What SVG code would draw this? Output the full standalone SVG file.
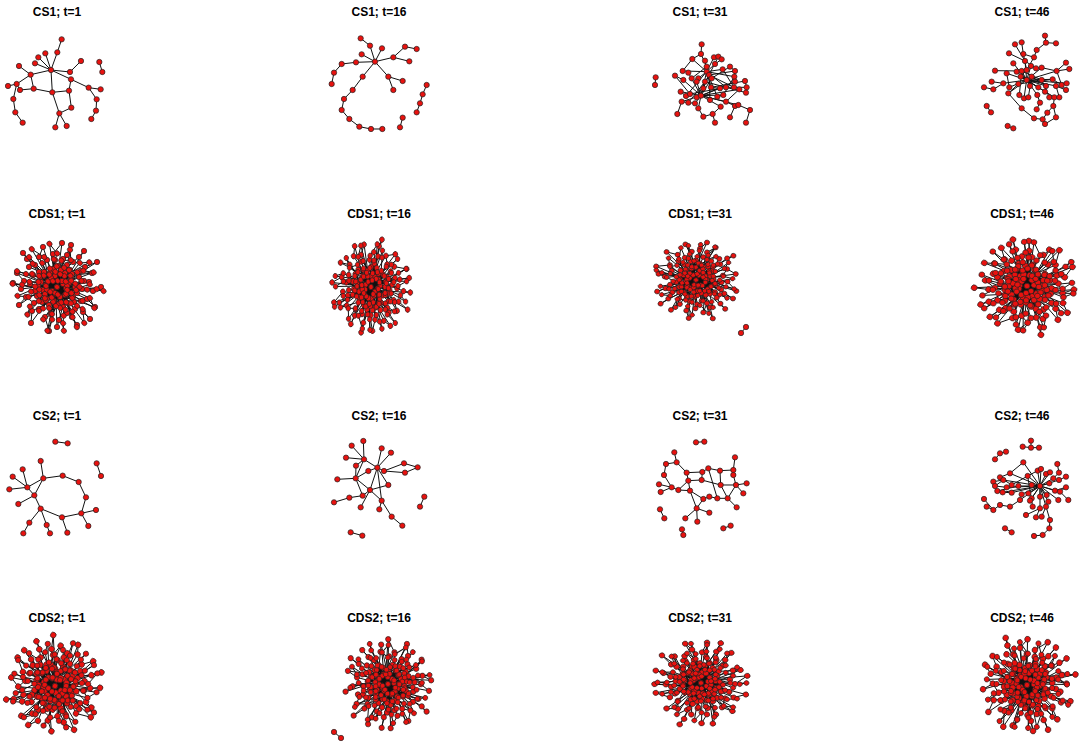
<svg xmlns="http://www.w3.org/2000/svg" xmlns:xlink="http://www.w3.org/1999/xlink" width="1084" height="747" viewBox="0 0 1084 747">
<style>
.t{font-family:"Liberation Sans",Arial,sans-serif;font-weight:bold;font-size:12px;text-anchor:middle;fill:#000}
.e{fill:none;stroke:#111;stroke-width:1;vector-effect:non-scaling-stroke}
.n circle{fill:#e8120f;stroke:#222;stroke-width:0.7;vector-effect:non-scaling-stroke}
</style>
<defs>
<path id="de" class="e" d="M28 -20L-5 4M32 -5L0 0M30 12L-9 -6M26 25L6 -3M15 30L-2 -11M2 33L10 5M-12 30L14 -8M-25 24L3 10M-31 10L9 1M-33 -6L6 -3M-28 -20L5 -6M-18 -30L-1 7M-4 -33L3 10M10 -32L-5 4M22 -30L-11 -2M36 4L-14 3M35 -14L-6 -9M-36 2L12 -4M-30 -28L0 0M0 40L-2 -11M-8 44L5 -6M20 38L-9 -6M38 20L-1 7M-38 18L8 -14M40 -25L-5 4M-14 -40L3 10M14 -42L-10 12M-40 -14L10 5M27 -36L-8 18M-26 36L13 -17M44 0L-12 7M-44 -4L16 10M5 -44L-3 14M33 32L-7 -14M-34 -34L11 16M-17 -10L19 -2M-20 9L20 6M2 17L-4 -18M-13 -15L17 15M-15 15L15 -13M6 20L1 -21M-22 4L22 -10M-18 -15L11 16M-8 18L8 -14M-10 12L14 -8M-16 -5L18 0M4 -17L-3 14M10 -22L-12 7M-19 -1L21 6M28 -20L40 -25M36 4L44 0M-38 18L-31 10M0 40L2 33M-8 44L-12 30M5 -44L-4 -33M14 -42L10 -32M-40 -14L-33 -6M-34 -34L-30 -28M27 -36L22 -30M33 32L26 25M-26 36L-25 24M38 20L30 12M20 38L15 30M-14 -40L-18 -30M-44 -4L-36 2M24 -16L-6 -9M25 2L-11 -2M-24 -12L9 1M-23 16L6 -3M10 26L-2 -11M-6 27L5 -6M18 22L-9 -6M-18 22L12 -4M-27 -3L10 5M27 -6L-5 4M-10 -27L3 10M6 -28L-1 7M16 -25L-14 3M-22 -22L8 8M24 14L-12 7M-2 -27L0 0M24 -16L35 -14M-23 16L-31 10M10 26L15 30M-10 -27L-18 -30"/>
<g id="dn" class="n">
<circle cx="0" cy="0" r="2.7"/><circle cx="6" cy="-3" r="2.7"/><circle cx="-5" cy="4" r="2.7"/><circle cx="10" cy="5" r="2.7"/><circle cx="-9" cy="-6" r="2.7"/><circle cx="3" cy="10" r="2.7"/><circle cx="-2" cy="-11" r="2.7"/><circle cx="14" cy="-8" r="2.7"/><circle cx="-14" cy="3" r="2.7"/><circle cx="8" cy="-14" r="2.7"/><circle cx="-10" cy="12" r="2.7"/><circle cx="16" cy="10" r="2.7"/><circle cx="-17" cy="-10" r="2.7"/><circle cx="2" cy="17" r="2.7"/><circle cx="-4" cy="-18" r="2.7"/><circle cx="19" cy="-2" r="2.7"/><circle cx="-19" cy="-1" r="2.7"/><circle cx="11" cy="16" r="2.7"/><circle cx="-13" cy="-15" r="2.7"/><circle cx="13" cy="-17" r="2.7"/><circle cx="-8" cy="18" r="2.7"/><circle cx="20" cy="6" r="2.7"/><circle cx="-20" cy="9" r="2.7"/><circle cx="5" cy="-6" r="2.7"/><circle cx="-6" cy="-9" r="2.7"/><circle cx="9" cy="1" r="2.7"/><circle cx="-1" cy="7" r="2.7"/><circle cx="-11" cy="-2" r="2.7"/><circle cx="15" cy="-13" r="2.7"/><circle cx="-15" cy="15" r="2.7"/><circle cx="6" cy="20" r="2.7"/><circle cx="-3" cy="14" r="2.7"/><circle cx="12" cy="-4" r="2.7"/><circle cx="-7" cy="-14" r="2.7"/><circle cx="17" cy="15" r="2.7"/><circle cx="-18" cy="-15" r="2.7"/><circle cx="1" cy="-21" r="2.7"/><circle cx="22" cy="-10" r="2.7"/><circle cx="-22" cy="4" r="2.7"/><circle cx="8" cy="8" r="2.7"/><circle cx="-12" cy="7" r="2.7"/><circle cx="4" cy="-17" r="2.7"/><circle cx="18" cy="0" r="2.7"/><circle cx="-16" cy="-5" r="2.7"/><circle cx="10" cy="-22" r="2.7"/>
<circle cx="24" cy="-16" r="2.7"/><circle cx="25" cy="2" r="2.7"/><circle cx="-24" cy="-12" r="2.7"/><circle cx="-23" cy="16" r="2.7"/><circle cx="10" cy="26" r="2.7"/><circle cx="-6" cy="27" r="2.7"/><circle cx="18" cy="22" r="2.7"/><circle cx="-18" cy="22" r="2.7"/><circle cx="-27" cy="-3" r="2.7"/><circle cx="27" cy="-6" r="2.7"/><circle cx="-10" cy="-27" r="2.7"/><circle cx="6" cy="-28" r="2.7"/><circle cx="16" cy="-25" r="2.7"/><circle cx="-22" cy="-22" r="2.7"/><circle cx="24" cy="14" r="2.7"/><circle cx="-2" cy="-27" r="2.7"/>
<circle cx="28" cy="-20" r="2.7"/><circle cx="32" cy="-5" r="2.7"/><circle cx="30" cy="12" r="2.7"/><circle cx="26" cy="25" r="2.7"/><circle cx="15" cy="30" r="2.7"/><circle cx="2" cy="33" r="2.7"/><circle cx="-12" cy="30" r="2.7"/><circle cx="-25" cy="24" r="2.7"/><circle cx="-31" cy="10" r="2.7"/><circle cx="-33" cy="-6" r="2.7"/><circle cx="-28" cy="-20" r="2.7"/><circle cx="-18" cy="-30" r="2.7"/><circle cx="-4" cy="-33" r="2.7"/><circle cx="10" cy="-32" r="2.7"/><circle cx="22" cy="-30" r="2.7"/><circle cx="36" cy="4" r="2.7"/><circle cx="35" cy="-14" r="2.7"/><circle cx="-36" cy="2" r="2.7"/><circle cx="-30" cy="-28" r="2.7"/><circle cx="0" cy="40" r="2.7"/><circle cx="-8" cy="44" r="2.7"/><circle cx="20" cy="38" r="2.7"/><circle cx="38" cy="20" r="2.7"/><circle cx="-38" cy="18" r="2.7"/><circle cx="40" cy="-25" r="2.7"/><circle cx="-14" cy="-40" r="2.7"/><circle cx="14" cy="-42" r="2.7"/><circle cx="-40" cy="-14" r="2.7"/><circle cx="27" cy="-36" r="2.7"/><circle cx="-26" cy="36" r="2.7"/><circle cx="44" cy="0" r="2.7"/><circle cx="-44" cy="-4" r="2.7"/><circle cx="5" cy="-44" r="2.7"/><circle cx="33" cy="32" r="2.7"/><circle cx="-34" cy="-34" r="2.7"/>
</g>
</defs>
<rect width="1084" height="747" fill="#fff"/>

<g id="titles">
<text class="t" x="57" y="16">CS1; t=1</text>
<text class="t" x="379" y="16">CS1; t=16</text>
<text class="t" x="700" y="16">CS1; t=31</text>
<text class="t" x="1022" y="16">CS1; t=46</text>
<text class="t" x="57" y="218">CDS1; t=1</text>
<text class="t" x="379" y="218">CDS1; t=16</text>
<text class="t" x="700" y="218">CDS1; t=31</text>
<text class="t" x="1022" y="218">CDS1; t=46</text>
<text class="t" x="57" y="420">CS2; t=1</text>
<text class="t" x="379" y="420">CS2; t=16</text>
<text class="t" x="700" y="420">CS2; t=31</text>
<text class="t" x="1022" y="420">CS2; t=46</text>
<text class="t" x="57" y="622">CDS2; t=1</text>
<text class="t" x="379" y="622">CDS2; t=16</text>
<text class="t" x="700" y="622">CDS2; t=31</text>
<text class="t" x="1022" y="622">CDS2; t=46</text>
</g>

<!-- CS1 t=1 -->
<g id="cs1-t1" transform="translate(0,0) scale(0.3333)">
<path class="e" d="M185 118L172 157L153 210M136 160L153 210M115 172L153 210M105 190L153 210M57 198L92 224L153 210L210 216L243 183M153 210L213 238L266 263L302 268M153 210L157 277M92 224L101 266M92 224L50 252L24 258M50 252L60 270L101 266L157 277L207 272L213 238M207 272L214 323L178 340L157 277M178 340L166 382M178 340L200 378M50 252L40 297L46 337L68 368M266 263L290 298L288 332L274 357M298 186L307 216"/>
<g class="n"><circle cx="185" cy="118" r="8"/><circle cx="172" cy="157" r="8"/><circle cx="136" cy="160" r="8"/><circle cx="115" cy="172" r="8"/><circle cx="105" cy="190" r="8"/><circle cx="57" cy="198" r="8"/><circle cx="153" cy="210" r="8"/><circle cx="92" cy="224" r="8"/><circle cx="210" cy="216" r="8"/><circle cx="243" cy="183" r="8"/><circle cx="213" cy="238" r="8"/><circle cx="50" cy="252" r="8"/><circle cx="24" cy="258" r="8"/><circle cx="60" cy="270" r="8"/><circle cx="101" cy="266" r="8"/><circle cx="157" cy="277" r="8"/><circle cx="207" cy="272" r="8"/><circle cx="266" cy="263" r="8"/><circle cx="302" cy="268" r="8"/><circle cx="40" cy="297" r="8"/><circle cx="214" cy="323" r="8"/><circle cx="290" cy="298" r="8"/><circle cx="46" cy="337" r="8"/><circle cx="178" cy="340" r="8"/><circle cx="288" cy="332" r="8"/><circle cx="68" cy="368" r="8"/><circle cx="274" cy="357" r="8"/><circle cx="166" cy="382" r="8"/><circle cx="200" cy="378" r="8"/><circle cx="298" cy="186" r="8"/><circle cx="307" cy="216" r="8"/></g>
</g>

<!-- CS1 t=16 -->
<g id="cs1-t16" transform="translate(320,0) scale(0.3333)">
<path class="e" d="M122 115L150 137L165 185M125 163L165 185M186 145L165 185M165 185L220 172L255 140L290 147M220 172L268 184M165 185L205 230L248 243M205 230L220 270M165 185L128 230L98 270L72 297L65 330L88 357L118 380L153 387L187 387M165 185L108 187L65 192L42 218L35 252M320 255L308 283L300 310L290 337M248 353L240 382"/>
<g class="n"><circle cx="122" cy="115" r="8"/><circle cx="150" cy="137" r="8"/><circle cx="165" cy="185" r="8"/><circle cx="125" cy="163" r="8"/><circle cx="186" cy="145" r="8"/><circle cx="220" cy="172" r="8"/><circle cx="255" cy="140" r="8"/><circle cx="290" cy="147" r="8"/><circle cx="268" cy="184" r="8"/><circle cx="205" cy="230" r="8"/><circle cx="248" cy="243" r="8"/><circle cx="220" cy="270" r="8"/><circle cx="128" cy="230" r="8"/><circle cx="98" cy="270" r="8"/><circle cx="72" cy="297" r="8"/><circle cx="65" cy="330" r="8"/><circle cx="88" cy="357" r="8"/><circle cx="118" cy="380" r="8"/><circle cx="153" cy="387" r="8"/><circle cx="187" cy="387" r="8"/><circle cx="108" cy="187" r="8"/><circle cx="65" cy="192" r="8"/><circle cx="42" cy="218" r="8"/><circle cx="35" cy="252" r="8"/><circle cx="320" cy="255" r="8"/><circle cx="308" cy="283" r="8"/><circle cx="300" cy="310" r="8"/><circle cx="290" cy="337" r="8"/><circle cx="248" cy="353" r="8"/><circle cx="240" cy="382" r="8"/></g>
</g>

<!-- CS1 t=31 -->
<g id="cs1-t31" transform="translate(640,0) scale(0.3333)">
<path class="e" d="M185 133L183 162L200 200L200 215M157 177L200 215M195 182L200 215M222 172L200 215M235 170L207 225M245 178L225 192L200 215M248 208L200 215M270 200L215 235M285 213L207 225M283 230L200 215M285 245L183 287M315 243L213 262M320 262L258 262M318 278L195 245M298 268L183 287M282 262L207 225M258 262L200 215M240 265L183 287M213 262L200 215M195 245L183 287M175 235L200 215M190 265L207 225M170 245L183 287M155 235L200 200M130 240L183 287M105 227L150 282M128 213L200 215M145 218L183 287M122 275L183 287M138 288L200 215M150 282L258 262M170 292L207 225M165 310L183 287M145 308L195 245M125 305L183 287M112 342L125 305M175 325L183 287M175 325L190 350L218 342L242 320L183 287M225 368L218 342M258 305L183 287M285 318L258 305M295 315L183 287M270 352L285 318M330 330L295 315M318 368L330 330M232 290L200 215M210 300L207 225M250 285L183 287M250 285L283 230M130 240L105 227M157 177L128 213M235 170L245 178M270 200L285 213L283 230M315 243L320 262L318 278M47 232L45 255M183 162L157 177M222 172L235 170M213 262L240 265M258 305L298 268M232 290L250 285M165 310L145 308L125 305M122 275L138 288M200 215L183 287M215 235L183 287M248 208L282 262"/>
<g class="n"><circle cx="185" cy="133" r="8"/><circle cx="183" cy="162" r="8"/><circle cx="157" cy="177" r="8"/><circle cx="195" cy="182" r="8"/><circle cx="222" cy="172" r="8"/><circle cx="235" cy="170" r="8"/><circle cx="245" cy="178" r="8"/><circle cx="225" cy="192" r="8"/><circle cx="248" cy="208" r="8"/><circle cx="270" cy="200" r="8"/><circle cx="285" cy="213" r="8"/><circle cx="283" cy="230" r="8"/><circle cx="285" cy="245" r="8"/><circle cx="315" cy="243" r="8"/><circle cx="320" cy="262" r="8"/><circle cx="318" cy="278" r="8"/><circle cx="298" cy="268" r="8"/><circle cx="282" cy="262" r="8"/><circle cx="258" cy="262" r="8"/><circle cx="240" cy="265" r="8"/><circle cx="213" cy="262" r="8"/><circle cx="195" cy="245" r="8"/><circle cx="200" cy="215" r="8"/><circle cx="207" cy="225" r="8"/><circle cx="215" cy="235" r="8"/><circle cx="175" cy="235" r="8"/><circle cx="190" cy="265" r="8"/><circle cx="170" cy="245" r="8"/><circle cx="155" cy="235" r="8"/><circle cx="130" cy="240" r="8"/><circle cx="105" cy="227" r="8"/><circle cx="128" cy="213" r="8"/><circle cx="145" cy="218" r="8"/><circle cx="122" cy="275" r="8"/><circle cx="138" cy="288" r="8"/><circle cx="150" cy="282" r="8"/><circle cx="170" cy="292" r="8"/><circle cx="183" cy="287" r="8"/><circle cx="165" cy="310" r="8"/><circle cx="145" cy="308" r="8"/><circle cx="125" cy="305" r="8"/><circle cx="112" cy="342" r="8"/><circle cx="175" cy="325" r="8"/><circle cx="190" cy="350" r="8"/><circle cx="218" cy="342" r="8"/><circle cx="242" cy="320" r="8"/><circle cx="258" cy="305" r="8"/><circle cx="285" cy="318" r="8"/><circle cx="295" cy="315" r="8"/><circle cx="270" cy="352" r="8"/><circle cx="225" cy="368" r="8"/><circle cx="330" cy="330" r="8"/><circle cx="318" cy="368" r="8"/><circle cx="232" cy="290" r="8"/><circle cx="210" cy="300" r="8"/><circle cx="250" cy="285" r="8"/><circle cx="200" cy="200" r="8"/><circle cx="47" cy="232" r="8"/><circle cx="45" cy="255" r="8"/></g>
</g>

<!-- CS1 t=46 -->
<g id="cs1-t46" transform="translate(960,0) scale(0.3333)">
<path class="e" d="M255 107L258 128L288 130M258 128L230 150L222 172M185 127L190 162L200 210M165 133L195 183M147 160L195 183M190 162L222 172L200 210M195 183L200 240M160 190L200 240M213 198L200 240M228 205L195 183M245 203L200 240M290 213L318 188M290 213L328 207M290 213L200 240M105 212L185 213M140 220L200 240M170 215L200 240M185 213L245 240M200 210L182 230L200 240M215 230L258 258M245 240L182 230M278 238L200 240M305 255L278 238M320 250L200 240M95 245L130 250L200 240M148 262L200 240M175 252L278 238M210 258L185 213M235 262L182 230M258 258L200 240M288 258L200 240M318 270L288 258M72 262L100 268L130 250M145 280L200 240M178 285L185 213M192 295L200 240M205 292L215 230M232 285L200 240M255 275L182 230M268 292L245 240M283 292L200 240M298 292L288 258M240 308L232 285M240 308L230 328M280 318L283 292M262 338L280 318M262 338L248 358L222 355L185 325L145 280M288 352L280 318M255 372L288 352M255 372L248 358M80 318L93 337M143 378L160 385M290 213L305 255L318 270M140 220L148 262M175 252L145 280M228 205L245 203L290 213"/>
<g class="n"><circle cx="255" cy="107" r="8"/><circle cx="258" cy="128" r="8"/><circle cx="288" cy="130" r="8"/><circle cx="230" cy="150" r="8"/><circle cx="185" cy="127" r="8"/><circle cx="165" cy="133" r="8"/><circle cx="147" cy="160" r="8"/><circle cx="190" cy="162" r="8"/><circle cx="222" cy="172" r="8"/><circle cx="195" cy="183" r="8"/><circle cx="160" cy="190" r="8"/><circle cx="213" cy="198" r="8"/><circle cx="228" cy="205" r="8"/><circle cx="245" cy="203" r="8"/><circle cx="290" cy="213" r="8"/><circle cx="318" cy="188" r="8"/><circle cx="328" cy="207" r="8"/><circle cx="105" cy="212" r="8"/><circle cx="140" cy="220" r="8"/><circle cx="170" cy="215" r="8"/><circle cx="185" cy="213" r="8"/><circle cx="200" cy="210" r="8"/><circle cx="182" cy="230" r="8"/><circle cx="200" cy="240" r="8"/><circle cx="215" cy="230" r="8"/><circle cx="245" cy="240" r="8"/><circle cx="278" cy="238" r="8"/><circle cx="305" cy="255" r="8"/><circle cx="320" cy="250" r="8"/><circle cx="95" cy="245" r="8"/><circle cx="130" cy="250" r="8"/><circle cx="148" cy="262" r="8"/><circle cx="175" cy="252" r="8"/><circle cx="210" cy="258" r="8"/><circle cx="235" cy="262" r="8"/><circle cx="258" cy="258" r="8"/><circle cx="288" cy="258" r="8"/><circle cx="318" cy="270" r="8"/><circle cx="72" cy="262" r="8"/><circle cx="100" cy="268" r="8"/><circle cx="145" cy="280" r="8"/><circle cx="178" cy="285" r="8"/><circle cx="192" cy="295" r="8"/><circle cx="205" cy="292" r="8"/><circle cx="232" cy="285" r="8"/><circle cx="255" cy="275" r="8"/><circle cx="268" cy="292" r="8"/><circle cx="283" cy="292" r="8"/><circle cx="298" cy="292" r="8"/><circle cx="240" cy="308" r="8"/><circle cx="230" cy="328" r="8"/><circle cx="280" cy="318" r="8"/><circle cx="262" cy="338" r="8"/><circle cx="248" cy="358" r="8"/><circle cx="185" cy="325" r="8"/><circle cx="222" cy="355" r="8"/><circle cx="288" cy="352" r="8"/><circle cx="255" cy="372" r="8"/><circle cx="80" cy="318" r="8"/><circle cx="93" cy="337" r="8"/><circle cx="143" cy="378" r="8"/><circle cx="160" cy="385" r="8"/></g>
</g>

<!-- CDS1 -->
<g id="cds1-t1" transform="translate(57,287)">
<use href="#de"/><use href="#de" transform="rotate(137) scale(0.92,1.02)"/><use href="#dn"/><use href="#dn" transform="rotate(137) scale(0.92,1.02)"/>
</g>
<g id="cds1-t16" transform="translate(371,287) scale(0.88,1.02)">
<use href="#de" transform="rotate(60)"/><use href="#de" transform="rotate(200) scale(-0.95,0.95)"/><use href="#dn" transform="rotate(60)"/><use href="#dn" transform="rotate(200) scale(-0.95,0.95)"/>
</g>
<g id="cds1-t31" transform="translate(696,280) scale(0.95,0.88)">
<use href="#de" transform="rotate(100)"/><use href="#de" transform="rotate(-30) scale(0.9)"/><use href="#dn" transform="rotate(100)"/><use href="#dn" transform="rotate(-30) scale(0.9)"/>
</g>
<g id="cds1-t31-pair"><path class="e" d="M741 333L746 327"/><g class="n"><circle cx="741" cy="333" r="2.7"/><circle cx="746" cy="327" r="2.7"/></g></g>
<g id="cds1-t46" transform="translate(1027,286) scale(1.12,1.05)">
<use href="#de" transform="rotate(210)"/><use href="#de" transform="rotate(15) scale(-0.95,0.95)"/><use href="#dn" transform="rotate(210)"/><use href="#dn" transform="rotate(15) scale(-0.95,0.95)"/>
</g>

<!-- CS2 t=1 -->
<g id="cs2-t1" transform="translate(0,400) scale(0.3333)">
<path class="e" d="M166 125L203 130M290 190L303 228M130 235L188 227L236 246L258 292L244 340L186 352L122 326L103 286L130 235M82 262L38 230M82 262L68 208M82 262L28 268M82 262L130 235M82 262L103 286M122 183L130 235M103 286L55 312M122 326L88 368L70 400M122 326L140 375L150 400M186 352L202 398M244 340L288 330M244 340L265 378"/>
<g class="n"><circle cx="166" cy="125" r="8"/><circle cx="203" cy="130" r="8"/><circle cx="290" cy="190" r="8"/><circle cx="303" cy="228" r="8"/><circle cx="130" cy="235" r="8"/><circle cx="188" cy="227" r="8"/><circle cx="236" cy="246" r="8"/><circle cx="258" cy="292" r="8"/><circle cx="244" cy="340" r="8"/><circle cx="186" cy="352" r="8"/><circle cx="122" cy="326" r="8"/><circle cx="103" cy="286" r="8"/><circle cx="82" cy="262" r="8"/><circle cx="38" cy="230" r="8"/><circle cx="68" cy="208" r="8"/><circle cx="28" cy="268" r="8"/><circle cx="122" cy="183" r="8"/><circle cx="55" cy="312" r="8"/><circle cx="88" cy="368" r="8"/><circle cx="70" cy="400" r="8"/><circle cx="140" cy="375" r="8"/><circle cx="150" cy="400" r="8"/><circle cx="202" cy="398" r="8"/><circle cx="288" cy="330" r="8"/><circle cx="265" cy="378" r="8"/></g>
</g>

<!-- CS2 t=16 -->
<g id="cs2-t16" transform="translate(320,400) scale(0.3333)">
<path class="e" d="M95 137L132 178M130 123L132 178M78 173L132 178L172 203M185 145L172 203M213 158L172 203M108 197L132 178M108 197L107 235M132 178L107 235M52 238L107 235L145 213L172 203L192 213L252 190L293 202L255 218L192 213M107 235L150 270M172 203L150 270M172 203L205 255L150 270M107 235L128 287M150 270L128 287L88 293L42 307M150 270L122 322M150 270L185 302L178 328M185 302L215 350L247 377M172 203L185 302M313 290L300 320M92 397L127 407"/>
<g class="n"><circle cx="95" cy="137" r="8"/><circle cx="130" cy="123" r="8"/><circle cx="78" cy="173" r="8"/><circle cx="132" cy="178" r="8"/><circle cx="185" cy="145" r="8"/><circle cx="213" cy="158" r="8"/><circle cx="108" cy="197" r="8"/><circle cx="145" cy="213" r="8"/><circle cx="172" cy="203" r="8"/><circle cx="192" cy="213" r="8"/><circle cx="252" cy="190" r="8"/><circle cx="293" cy="202" r="8"/><circle cx="255" cy="218" r="8"/><circle cx="52" cy="238" r="8"/><circle cx="107" cy="235" r="8"/><circle cx="205" cy="255" r="8"/><circle cx="150" cy="270" r="8"/><circle cx="128" cy="287" r="8"/><circle cx="88" cy="293" r="8"/><circle cx="42" cy="307" r="8"/><circle cx="185" cy="302" r="8"/><circle cx="122" cy="322" r="8"/><circle cx="178" cy="328" r="8"/><circle cx="215" cy="350" r="8"/><circle cx="247" cy="377" r="8"/><circle cx="313" cy="290" r="8"/><circle cx="300" cy="320" r="8"/><circle cx="92" cy="397" r="8"/><circle cx="127" cy="407" r="8"/></g>
</g>

<!-- CS2 t=31 -->
<g id="cs2-t31" transform="translate(640,400) scale(0.3333)">
<path class="e" d="M168 127L193 125M103 157L110 187L78 192L72 225L95 262L57 253M95 262L62 276M110 187L140 218L187 216L205 205L240 212L280 210L285 172M280 210L280 225L288 255L320 250M288 255L310 280M140 218L145 242L185 240L187 216M95 262L115 270L150 272L145 242M150 272L190 297L208 290L232 295L263 295L242 255L240 212M242 255L288 255M185 240L242 255M263 295L290 322M288 255L263 295M190 297L170 325L208 338M170 325L136 355M170 325L172 365M150 272L170 325M205 205L232 295M60 328L73 355M126 388L130 405M272 377L250 385M145 242L115 270"/>
<g class="n"><circle cx="168" cy="127" r="8"/><circle cx="193" cy="125" r="8"/><circle cx="103" cy="157" r="8"/><circle cx="110" cy="187" r="8"/><circle cx="78" cy="192" r="8"/><circle cx="72" cy="225" r="8"/><circle cx="140" cy="218" r="8"/><circle cx="187" cy="216" r="8"/><circle cx="205" cy="205" r="8"/><circle cx="240" cy="212" r="8"/><circle cx="280" cy="210" r="8"/><circle cx="285" cy="172" r="8"/><circle cx="280" cy="225" r="8"/><circle cx="145" cy="242" r="8"/><circle cx="185" cy="240" r="8"/><circle cx="57" cy="253" r="8"/><circle cx="95" cy="262" r="8"/><circle cx="115" cy="270" r="8"/><circle cx="150" cy="272" r="8"/><circle cx="242" cy="255" r="8"/><circle cx="288" cy="255" r="8"/><circle cx="320" cy="250" r="8"/><circle cx="62" cy="276" r="8"/><circle cx="190" cy="297" r="8"/><circle cx="208" cy="290" r="8"/><circle cx="232" cy="295" r="8"/><circle cx="263" cy="295" r="8"/><circle cx="310" cy="280" r="8"/><circle cx="170" cy="325" r="8"/><circle cx="208" cy="338" r="8"/><circle cx="290" cy="322" r="8"/><circle cx="136" cy="355" r="8"/><circle cx="172" cy="365" r="8"/><circle cx="60" cy="328" r="8"/><circle cx="73" cy="355" r="8"/><circle cx="126" cy="388" r="8"/><circle cx="130" cy="405" r="8"/><circle cx="272" cy="377" r="8"/><circle cx="250" cy="385" r="8"/></g>
</g>

<!-- CS2 t=46 -->
<g id="cs2-t46" transform="translate(960,400) scale(0.3333)">
<path class="e" d="M213 122L213 143M188 140L213 143L237 143M138 155L120 160L105 178M190 187L240 258M150 220L240 258M120 232L155 255M100 245L130 240L240 258M203 228L240 258M233 212L240 258M243 207L240 258M258 222L240 258M270 217L240 258M280 235L240 258M297 218L280 235M318 230L297 240M292 192L297 218M297 240L240 258M268 250L240 258M215 255L240 258M175 258L240 258M155 255L203 228M140 262L240 258M105 258L130 240M112 273L175 258M128 277L240 258M155 278L240 258M185 283L240 258M205 280L240 258M215 295L240 258M240 290L240 258M260 285L240 258M285 272L240 258M300 275L240 258M318 262L300 275M325 300L300 275M295 300L240 258M265 305L240 258M258 320L240 258M240 325L240 258M218 320L203 228M210 302L240 258M180 300L240 258M150 320L180 300M120 315L150 320M100 330L120 315M72 297L100 330M80 320L100 330M198 345L240 325M228 352L240 325M245 350L258 320M270 360L258 320M268 385L270 360M248 405L268 385M222 408L248 405M135 385L155 397M150 220L190 187M203 228L233 212M120 232L150 220M285 272L318 262M140 262L105 258M155 278L128 277"/>
<g class="n"><circle cx="213" cy="122" r="8"/><circle cx="188" cy="140" r="8"/><circle cx="213" cy="143" r="8"/><circle cx="237" cy="143" r="8"/><circle cx="138" cy="155" r="8"/><circle cx="120" cy="160" r="8"/><circle cx="105" cy="178" r="8"/><circle cx="190" cy="187" r="8"/><circle cx="150" cy="220" r="8"/><circle cx="120" cy="232" r="8"/><circle cx="100" cy="245" r="8"/><circle cx="130" cy="240" r="8"/><circle cx="203" cy="228" r="8"/><circle cx="233" cy="212" r="8"/><circle cx="243" cy="207" r="8"/><circle cx="258" cy="222" r="8"/><circle cx="270" cy="217" r="8"/><circle cx="280" cy="235" r="8"/><circle cx="297" cy="218" r="8"/><circle cx="318" cy="230" r="8"/><circle cx="292" cy="192" r="8"/><circle cx="297" cy="240" r="8"/><circle cx="268" cy="250" r="8"/><circle cx="240" cy="258" r="8"/><circle cx="215" cy="255" r="8"/><circle cx="175" cy="258" r="8"/><circle cx="155" cy="255" r="8"/><circle cx="140" cy="262" r="8"/><circle cx="105" cy="258" r="8"/><circle cx="112" cy="273" r="8"/><circle cx="128" cy="277" r="8"/><circle cx="155" cy="278" r="8"/><circle cx="185" cy="283" r="8"/><circle cx="205" cy="280" r="8"/><circle cx="215" cy="295" r="8"/><circle cx="240" cy="290" r="8"/><circle cx="260" cy="285" r="8"/><circle cx="285" cy="272" r="8"/><circle cx="300" cy="275" r="8"/><circle cx="318" cy="262" r="8"/><circle cx="325" cy="300" r="8"/><circle cx="295" cy="300" r="8"/><circle cx="265" cy="305" r="8"/><circle cx="258" cy="320" r="8"/><circle cx="240" cy="325" r="8"/><circle cx="218" cy="320" r="8"/><circle cx="210" cy="302" r="8"/><circle cx="180" cy="300" r="8"/><circle cx="150" cy="320" r="8"/><circle cx="120" cy="315" r="8"/><circle cx="100" cy="330" r="8"/><circle cx="72" cy="297" r="8"/><circle cx="80" cy="320" r="8"/><circle cx="198" cy="345" r="8"/><circle cx="228" cy="352" r="8"/><circle cx="245" cy="350" r="8"/><circle cx="270" cy="360" r="8"/><circle cx="268" cy="385" r="8"/><circle cx="248" cy="405" r="8"/><circle cx="222" cy="408" r="8"/><circle cx="135" cy="385" r="8"/><circle cx="155" cy="397" r="8"/></g>
</g>

<!-- CDS2 -->
<g id="cds2-t1" transform="translate(55,686) scale(1.05,1.08)">
<use href="#de" transform="rotate(300)"/><use href="#de" transform="rotate(80) scale(-0.9,0.95)"/><use href="#dn" transform="rotate(300)"/><use href="#dn" transform="rotate(80) scale(-0.9,0.95)"/>
</g>
<g id="cds2-t16" transform="translate(388,684) scale(0.98,1.0)">
<use href="#de" transform="rotate(170)"/><use href="#de" transform="rotate(20) scale(0.92)"/><use href="#dn" transform="rotate(170)"/><use href="#dn" transform="rotate(20) scale(0.92)"/>
</g>
<g id="cds2-t16-pair"><path class="e" d="M334 732L341 738"/><g class="n"><circle cx="334" cy="732" r="2.7"/><circle cx="341" cy="738" r="2.7"/></g></g>
<g id="cds2-t31" transform="translate(701,683) scale(1.05,0.95)">
<use href="#de" transform="rotate(250)"/><use href="#de" transform="rotate(45) scale(-0.9,0.9)"/><use href="#dn" transform="rotate(250)"/><use href="#dn" transform="rotate(45) scale(-0.9,0.9)"/>
</g>
<g id="cds2-t46" transform="translate(1027,685) scale(1.05,1.08)">
<use href="#de" transform="rotate(20)"/><use href="#de" transform="rotate(160) scale(0.9)"/><use href="#dn" transform="rotate(20)"/><use href="#dn" transform="rotate(160) scale(0.9)"/>
</g>
</svg>
